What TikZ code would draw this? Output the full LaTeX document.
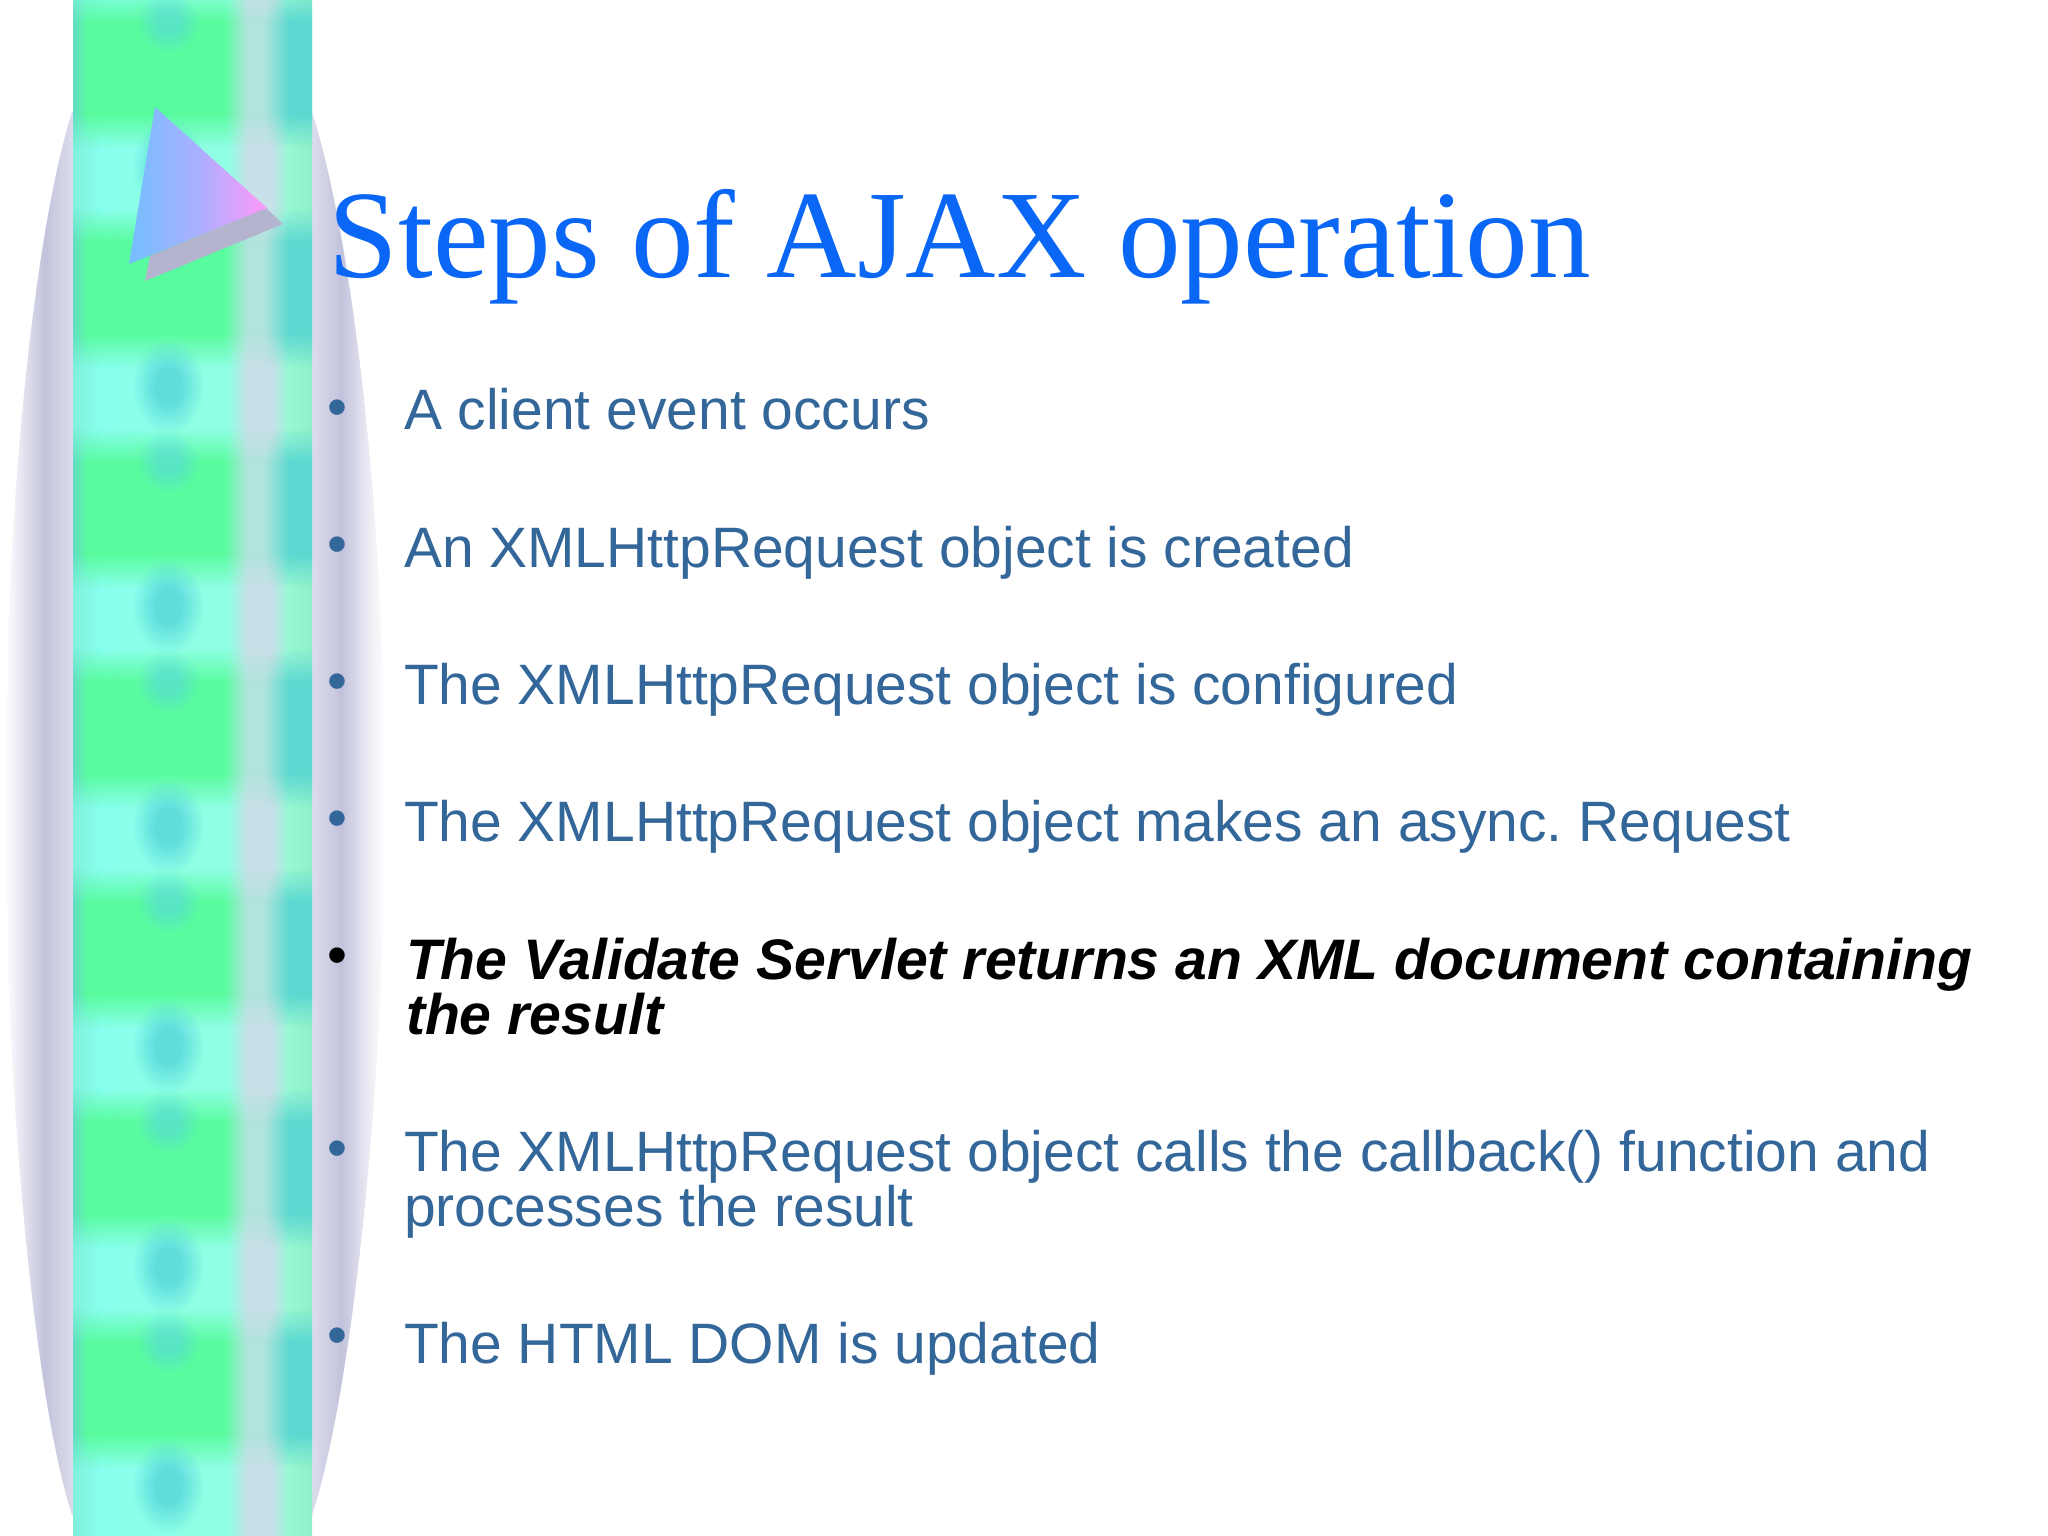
\documentclass[tikz,border=0pt]{standalone}
\usepackage{fontspec}
\setmainfont{Liberation Sans}
\newfontfamily\titlefont{Liberation Serif}
\usetikzlibrary{fadings}
\definecolor{rowblue}{HTML}{336699}
\definecolor{titleblue}{HTML}{0A66F5}
\definecolor{spotteal}{HTML}{58D8DC}
\definecolor{wedgegray}{HTML}{B4B4CE}
\definecolor{haloblue}{HTML}{C2C2DC}
\definecolor{halolight}{HTML}{DCDCEC}
\definecolor{haloedge}{HTML}{E8E8F2}
\definecolor{c0}{HTML}{80F0DC}
\definecolor{c1}{HTML}{88FFEE}
\definecolor{c2}{HTML}{90FFE4}
\definecolor{c3}{HTML}{C8E0E8}
\definecolor{c4}{HTML}{98F8D4}
\definecolor{c5}{HTML}{90F0C8}
\definecolor{g0}{HTML}{64DCC4}
\definecolor{g1}{HTML}{58FC9E}
\definecolor{g2}{HTML}{B0E4DC}
\definecolor{g3}{HTML}{5CD8D0}
\definecolor{w0}{HTML}{74BEFF}
\definecolor{w1}{HTML}{AAB0FF}
\definecolor{w2}{HTML}{FF98F8}
\pgfdeclarehorizontalshading{halo}{100bp}{color(0bp)=(white); color(25bp)=(white);
  color(27bp)=(haloedge); color(30.2bp)=(haloblue); color(33.8bp)=(halolight);
  color(65.4bp)=(halolight); color(69.3bp)=(haloblue); color(72.5bp)=(haloedge);
  color(75bp)=(white); color(100bp)=(white)}
\pgfdeclarehorizontalshading{cyanband}{100bp}{color(0bp)=(c0); color(25bp)=(c0);
  color(31bp)=(c1); color(50bp)=(c2); color(57.5bp)=(c2); color(61.5bp)=(c3); color(66.5bp)=(c3);
  color(70bp)=(c4); color(75bp)=(c5); color(100bp)=(c5)}
\pgfdeclarehorizontalshading{greenband}{100bp}{color(0bp)=(g0); color(25bp)=(g0);
  color(28bp)=(g1); color(56.5bp)=(g1); color(61.5bp)=(g2); color(65bp)=(g2);
  color(70bp)=(g3); color(75bp)=(g3); color(100bp)=(g3)}
\pgfdeclarehorizontalshading{wedgeshade}{100bp}{color(0bp)=(w0); color(25bp)=(w0);
  color(50bp)=(w1); color(75bp)=(w2); color(100bp)=(w2)}
\pgfdeclareverticalshading{softbandshade}{100bp}{color(0bp)=(black); color(25bp)=(black);
  color(36bp)=(white); color(64bp)=(white); color(75bp)=(black); color(100bp)=(black)}
\pgfdeclarefading{softband}{\pgfuseshading{softbandshade}}
\pgfdeclareradialshading{softspotshade}{\pgfpoint{0bp}{0bp}}{color(0bp)=(white); color(9bp)=(white);
  color(25bp)=(black); color(50bp)=(black)}
\pgfdeclarefading{softspot}{\pgfuseshading{softspotshade}}
\tikzset{steprow/.style = {anchor=base west, inner sep=0, outer sep=0, align=left,
                           text=rowblue, font=\fontsize{16.2}{15.6}\selectfont},
         stepbullet/.style = {anchor=base, inner sep=0, outer sep=0,
                              text=rowblue, font=\fontsize{16.2}{15.6}\selectfont},
         spot/.style = {fill=spotteal, path fading=softspot}}

\begin{document}
\begin{tikzpicture}[x=0.01cm, y=-0.01cm]
  \useasboundingbox (0, 0) rectangle (2048, 1536);
  % backdrop
  \shade [shading=halo] (72, 112) .. controls (35, 230) and (5, 500) .. (5, 800)
    .. controls (5, 1100) and (35, 1400) .. (72, 1515) -- (312, 1515)
    .. controls (350, 1400) and (385, 1100) .. (385, 800)
    .. controls (385, 500) and (350, 230) .. (312, 112) -- cycle;
  % strip
  \begin{scope}
    \clip (73, 0) rectangle (312, 1536);
    \shade [shading=cyanband] (73, 0) rectangle (312, 1536);
    \foreach \k in {0, ..., 6} {
      \pgfmathsetmacro{\ymid}{68 + 220*\k}
      \shade [shading=greenband, path fading=softband]
        (73, \ymid - 80) rectangle (312, \ymid + 80);
      \fill [spot, fill opacity=0.6] (168, \ymid - 46) ellipse [x radius=32, y radius=32];
      \fill [spot, fill opacity=0.85] (168, \ymid + 98) ellipse [x radius=36, y radius=48];
    }
  \end{scope}
  % wedge
  \fill [wedgegray] (266, 208) -- (283, 224) -- (145, 281) -- (150, 256) -- cycle;
  \shade [shading=wedgeshade] (155, 107) -- (267, 208) -- (129, 264) -- cycle;
  % title
  \node [anchor=base west, inner sep=0, text=titleblue,
         font=\titlefont\fontsize{35.6}{38}\selectfont] (title) at (328, 277) {Steps of AJAX operation};
  % steps
  \node [stepbullet] (b1) at (337, 426) {•};
  \node [stepbullet] (b2) at (337, 563) {•};
  \node [stepbullet] (b3) at (337, 700) {•};
  \node [stepbullet] (b4) at (337, 837) {•};
  \node [stepbullet, text=black] (b5) at (337, 974) {•};
  \node [stepbullet] (b6) at (337, 1167) {•};
  \node [stepbullet] (b7) at (337, 1354) {•};
  \node [steprow] (s1) at (404, 429) {A client event occurs};
  \node [steprow] (s2) at (404, 567) {An XMLHttpRequest object is created};
  \node [steprow] (s3) at (404, 704) {The XMLHttpRequest object is configured};
  \node [steprow] (s4) at (404, 841) {The XMLHttpRequest object makes an async.\ Request};
  \node [steprow, text=black, font=\fontsize{16.25}{15.6}\selectfont\bfseries\itshape] (s5) at (406, 1034)
    {The Validate Servlet returns an XML document containing\\the result};
  \node [steprow] (s6) at (404, 1226)
    {The XMLHttpRequest object calls the callback() function and\\processes the result};
  \node [steprow] (s7) at (404, 1363) {The HTML DOM is updated};
\end{tikzpicture}
\end{document}
